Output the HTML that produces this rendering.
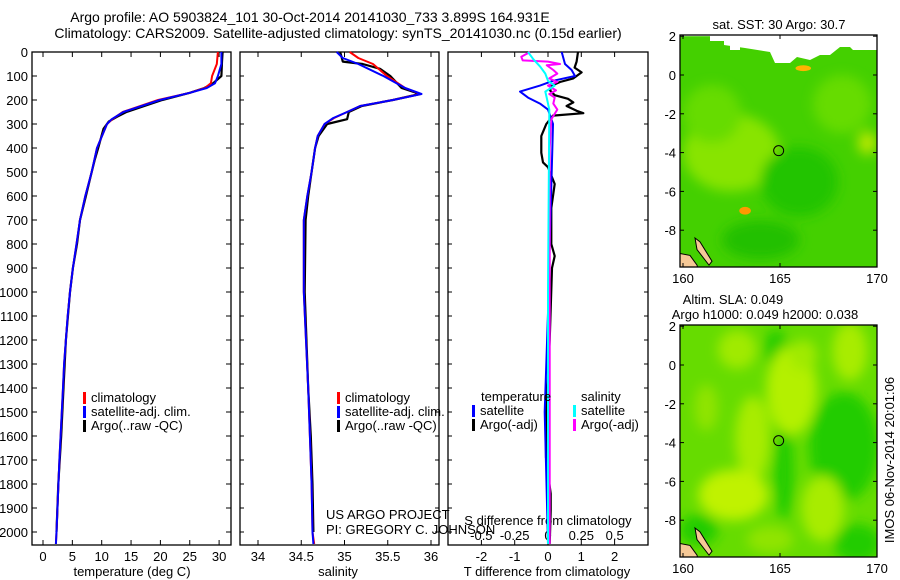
<!DOCTYPE html>
<html><head><meta charset="utf-8"><style>
body{margin:0;background:#fff;}
svg{display:block;font-family:"Liberation Sans",sans-serif;}
</style></head><body>
<svg id="fig" width="900" height="580" viewBox="0 0 900 580">
<defs>
<filter id="blur3" x="-50%" y="-50%" width="200%" height="200%"><feGaussianBlur stdDeviation="6"/></filter>
<clipPath id="clipMap1"><rect x="680" y="35" width="197" height="232"/></clipPath>
<clipPath id="clipMap2"><rect x="680" y="325" width="197" height="232"/></clipPath>
</defs>
<text x="310" y="22" font-size="14" text-anchor="middle">Argo profile: AO 5903824_101 30-Oct-2014 20141030_733 3.899S 164.931E</text>
<text x="338" y="38" font-size="14" text-anchor="middle">Climatology: CARS2009. Satellite-adjusted climatology: synTS_20141030.nc (0.15d earlier)</text>
<g id="g1"></g>
<g id="g2"></g>
<g id="g3"></g>
<g id="m1"></g>
<g id="m2"></g>
<text x="326" y="519" font-size="13">US ARGO PROJECT</text>
<text x="326" y="534" font-size="13">PI: GREGORY C. JOHNSON</text>
<text transform="translate(894,460) rotate(-90)" font-size="13" text-anchor="middle">IMOS 06-Nov-2014 20:01:06</text>
</svg>
<script>
// ---- data ----
const depthT = [0,50,100,130,150,170,200,250,280,300,400,500,600,700,800,900,1000,1100,1200,1300,1400,1500,1700,2000,2050];
const tempSat = [30.4,30.4,29.8,29.3,27.9,25,19.9,13.7,11.7,10.9,9.2,8.3,7.2,6.3,5.7,5.1,4.6,4.2,3.9,3.6,3.4,3.2,2.8,2.3,2.2];
const tempClim = [29.8,29.6,28.8,28.6,27.6,25,19.6,13.6,11.8,10.9,9.2,8.3,7.2,6.3,5.7,5.1,4.6,4.2,3.9,3.6,3.4,3.2,2.8,2.3,2.2];
const depthArgoT = [0,40,100,130,150,170,200,250,270,290,320,400,450,500,600,700,800,900,1000,1200,1400,1600,1800,2000];
const tempArgo = [30.6,30.5,30.4,29,27.5,25,20.3,14.2,12.6,11.2,10.3,9.4,8.8,8.3,7.3,6.3,5.8,5.1,4.6,3.9,3.5,3.1,2.6,2.3];
const depthS = [0,25,50,100,150,175,200,225,250,275,300,350,400,500,600,700,1000,1400,1600,1800,2000,2050];
const salSat = [34.91,34.98,35.16,35.45,35.70,35.89,35.56,35.18,35.03,34.87,34.77,34.69,34.66,34.62,34.57,34.53,34.53,34.58,34.60,34.62,34.63,34.64];
const salClim = [35.06,35.16,35.33,35.49,35.70,35.88,35.56,35.18,35.03,34.88,34.77,34.69,34.66,34.62,34.57,34.53,34.53,34.58,34.60,34.62,34.63,34.65];
const depthArgoS = [0,40,50,70,100,150,175,200,225,250,280,300,350,400,500,600,700,1000,1400,1600,1800,2000];
const salArgo = [34.95,34.98,35.21,35.41,35.53,35.66,35.87,35.56,35.20,35.05,35.03,34.80,34.70,34.66,34.62,34.58,34.55,34.54,34.58,34.61,34.63,34.64];
const depthDT = [0,50,75,100,120,140,165,190,215,240,300,500,800,1000,1500,2050];
const dTSat = [0.41,0.51,0.71,0.81,0.15,-0.24,-0.84,-0.6,-0.24,0,0.15,0.11,0.05,0.02,-0.1,0];
const depthDTA = [0,40,65,85,110,125,140,160,180,195,210,225,245,255,265,300,350,420,460,480,550,650,800,850,900,1200,1530,1690,1840,1910,2050];
const dTArgo = [0.9,0.86,0.8,1.01,0.76,0.36,0.11,0.06,0.2,0.6,0.76,0.56,0.86,1.06,0.15,-0.05,-0.2,-0.2,-0.15,0,0.2,0.1,0.1,0.2,0.12,0.05,-0.06,-0.06,0.08,0.08,0.05];
const depthDS = [0,20,35,40,50,55,75,90,110,125,140,160,175,190,215,240,280,400,2050];
const dSArgo = [-0.135,-0.2,-0.19,0,0.09,-0.01,0.04,0.07,0.01,0.07,0,0.06,0.01,0.05,0.04,0.07,0.025,0.013,0.013];
const depthDSS = [0,30,60,90,120,140,165,190,240,1000,2050];
const dSSat = [-0.15,-0.11,-0.06,-0.02,0,0.05,-0.02,-0.01,0.01,0,0];
const depthTicks = [0,100,200,300,400,500,600,700,800,900,1000,1100,1200,1300,1400,1500,1600,1700,1800,1900,2000];
const tempTicks = [0,5,10,15,20,25,30];
const salTicks = [34,34.5,35,35.5,36];
const salTickLabels = ["34","34.5","35","35.5","36"];
const dTTicks = [-2,-1,0,1,2];
const dSTicks = [-0.5,-0.25,0,0.25,0.5];
const dSTickLabels = ["-0.5","-0.25","0","0.25","0.5"];
const lonTicks = [160,165,170];
const latTicks = [2,0,-2,-4,-6,-8];
const argoLon = [164.931];
const argoLat = [-3.899];
// SLA map blobs: lon, lat, rLon, rLat, colour
const slaBlobLon = [165.6,163.6,162.6,167.2,168.6,162.8,161.2,166.2,164.5];
const slaBlobLat = [-1.3,-3.8,-6.7,-7.4,0.7,0.8,-2.2,0.5,-9];
const slaBlobRlon = [1.3,0.9,1.8,1.1,0.9,1.0,0.6,0.7,1.2];
const slaBlobRlat = [2.3,2.2,1.3,1.7,1.5,1.0,1.2,0.8,0.7];
const slaBlobCol = ["#b4f000","#a8ec00","#c0f200","#a8ec00","#a8ec00","#a0ea00","#90e400","#a0ea00","#90e400"];
const slaDarkLon = [168.3,165.2,169,164.8,160.8];
const slaDarkLat = [-4.2,-5.5,-9.2,0.8,-8.5];
const slaDarkRlon = [1.8,0.5,1.2,0.6,1];
const slaDarkRlat = [2.8,2.5,1,1,0.8];
// SST map patches
const sstPatchLon = [162.5,166,168.2,161.5,164,169.5,163.2,166.2];
const sstPatchLat = [-4,-5.5,-1.5,-2,-8.5,-3.5,-7,0.35];
const sstPatchRlon = [2.5,2,1.5,1.5,2,0.5,0.3,0.4];
const sstPatchRlat = [2,1.8,1.5,1.5,1,0.6,0.2,0.15];
const sstPatchCol = ["#88e400","#22c400","#66dc00","#66dc00","#22c000","#b8e800","#ff9900","#ffb400"];

const NS="http://www.w3.org/2000/svg";
function el(tag, attrs, parent){const e=document.createElementNS(NS,tag);for(const k in attrs)e.setAttribute(k,attrs[k]);parent.appendChild(e);return e;}
const yD = d => 52 + 0.24*d;
const xT = t => 43 + 5.87*t;
const xS = s => 258 + 86.5*(s-34);
const xDT = v => 548 + 33.3*v;
const xDS = v => 548 + 133.3*v;
const lonX = l => 683 + 19.4*(l-160);
const lat1 = l => 75 - 19.4*l;
const lat2 = l => 365 - 19.4*l;
const TOP=52, BOT=545;

function panelFrame(g,x0,x1,name){
  const r=el('rect',{x:x0,y:TOP,width:x1-x0,height:BOT-TOP,fill:'none',stroke:'#000','stroke-width':1.3},g);
  
  
}
function line(g,xs,ys,xf,yf,col,w,name){
  const pts=xs.map((v,i)=>xf(v).toFixed(1)+','+yf(ys[i]).toFixed(1)).join(' ');
  const p=el('polyline',{points:pts,fill:'none',stroke:col,'stroke-width':w,'stroke-linejoin':'round'},g);
  
  
}
function xticks(g,ticks,labels,xf,yLab,name,top){
  ticks.forEach((t,i)=>{
    el('line',{x1:xf(t),x2:xf(t),y1:BOT,y2:BOT-5,stroke:'#000'},g);
    if(top) el('line',{x1:xf(t),x2:xf(t),y1:TOP,y2:TOP+5,stroke:'#000'},g);
    const tx=el('text',{x:xf(t),y:yLab,'font-size':13,'text-anchor':'middle'},g);
    tx.textContent=labels[i];
    
    
  });
}
function legend(g,x,y,items){
  items.forEach((it,i)=>{
    el('rect',{x:x,y:y+i*14-10,width:3,height:12,fill:it[0]},g);
    const t=el('text',{x:x+8,y:y+i*14,'font-size':13},g);
    t.textContent=it[1];
    
    
  });
}
// Panel 1
const g1=document.getElementById('g1');
panelFrame(g1,32,231,'temperature-panel');
depthTicks.forEach(d=>{
  el('line',{x1:32,x2:37,y1:yD(d),y2:yD(d),stroke:'#000'},g1);
  el('line',{x1:231,x2:226,y1:yD(d),y2:yD(d),stroke:'#000'},g1);
  const t=el('text',{x:28,y:yD(d)+5,'font-size':13,'text-anchor':'end'},g1);
  t.textContent=d;
  
  
});
xticks(g1,tempTicks,tempTicks.map(String),xT,561,'temperature',true);
const xl1=el('text',{x:132,y:576,'font-size':13,'text-anchor':'middle'},g1);xl1.textContent='temperature (deg C)';


line(g1,tempArgo,depthArgoT,xT,yD,'#000',2.2,'temperature-argo-line');
line(g1,tempClim,depthT,xT,yD,'#f00',2,'temperature-climatology-line');
line(g1,tempSat,depthT,xT,yD,'#00f',2,'temperature-satellite-line');
legend(g1,83,402,[['#f00','climatology'],['#00f','satellite-adj. clim.'],['#000','Argo(..raw -QC)']]);
// Panel 2
const g2=document.getElementById('g2');
panelFrame(g2,240,439,'salinity-panel');
xticks(g2,salTicks,salTickLabels,xS,561,'salinity',true);
depthTicks.forEach(d=>{el('line',{x1:240,x2:244,y1:yD(d),y2:yD(d),stroke:'#000'},g2);el('line',{x1:439,x2:435,y1:yD(d),y2:yD(d),stroke:'#000'},g2);});
const xl2=el('text',{x:338,y:576,'font-size':13,'text-anchor':'middle'},g2);xl2.textContent='salinity';


line(g2,salArgo,depthArgoS,xS,yD,'#000',2.2,'salinity-argo-line');
line(g2,salClim,depthS,xS,yD,'#f00',2,'salinity-climatology-line');
line(g2,salSat,depthS,xS,yD,'#00f',2,'salinity-satellite-line');
legend(g2,337,402,[['#f00','climatology'],['#00f','satellite-adj. clim.'],['#000','Argo(..raw -QC)']]);
// Panel 3
const g3=document.getElementById('g3');
panelFrame(g3,448,648,'difference-panel');
xticks(g3,dTTicks,dTTicks.map(String),xDT,561,'t-difference',true);
depthTicks.forEach(d=>{el('line',{x1:448,x2:452,y1:yD(d),y2:yD(d),stroke:'#000'},g3);el('line',{x1:648,x2:644,y1:yD(d),y2:yD(d),stroke:'#000'},g3);});
dSTicks.forEach((t,i)=>{
  const tx=el('text',{x:xDS(t),y:540,'font-size':13,'text-anchor':'middle'},g3);
  tx.textContent=dSTickLabels[i];
  
  
});
const st=el('text',{x:548,y:525,'font-size':13,'text-anchor':'middle'},g3);st.textContent='S difference from climatology';


const tt=el('text',{x:547,y:576,'font-size':13,'text-anchor':'middle'},g3);tt.textContent='T difference from climatology';


line(g3,dTArgo,depthDTA,xDT,yD,'#000',2.2,'t-difference-argo-line');
line(g3,dTSat,depthDT,xDT,yD,'#00f',2,'t-difference-satellite-line');
line(g3,dSArgo,depthDS,xDS,yD,'#f0f',2,'s-difference-argo-line');
line(g3,dSSat,depthDSS,xDS,yD,'#0ff',2,'s-difference-satellite-line');
const lt=el('text',{x:481,y:401,'font-size':13},g3);lt.textContent='temperature';


const ls=el('text',{x:581,y:401,'font-size':13},g3);ls.textContent='salinity';


legend(g3,472,415,[['#00f','satellite'],['#000','Argo(-adj)']]);
legend(g3,573,415,[['#0ff','satellite'],['#f0f','Argo(-adj)']]);
// Maps
function mapAxes(g,latf,y0,y1,title1,title2){
  lonTicks.forEach(l=>{
    el('line',{x1:lonX(l),x2:lonX(l),y1:y1,y2:y1-4,stroke:'#000'},g);
    el('line',{x1:lonX(l),x2:lonX(l),y1:y0,y2:y0+4,stroke:'#000'},g);
    const t=el('text',{x:lonX(l),y:y1+16,'font-size':13,'text-anchor':'middle'},g);t.textContent=l;
    
    
  });
  latTicks.forEach(l=>{
    el('line',{x1:680,x2:684,y1:latf(l),y2:latf(l),stroke:'#000'},g);
    el('line',{x1:877,x2:873,y1:latf(l),y2:latf(l),stroke:'#000'},g);
    const t=el('text',{x:676,y:latf(l)+5,'font-size':13,'text-anchor':'end'},g);t.textContent=l;
    
    
  });
  const r=el('rect',{x:680,y:y0,width:197,height:y1-y0,fill:'none',stroke:'#000','stroke-width':1.3},g);
  
  
  title2.forEach((s,i)=>{
    const t=el('text',{x:title1[i],y:y0-(title2.length-i-1)*15-6,'font-size':13,'text-anchor':'middle'},g);t.textContent=s;
    
    
  });
  argoLon.forEach((lo,i)=>{
    const c=el('circle',{cx:lonX(lo),cy:latf(argoLat[i]),r:5,fill:'none',stroke:'#000','stroke-width':1},g);
    
    
  });
}
function land(g,latf){
  el('path',{d:`M680 ${latf(-9.2)} L690 ${latf(-9.3)} L697 ${latf(-9.8)} L698 ${latf(-10)} L680 ${latf(-10)} Z`,fill:'#f5c896',stroke:'#000','stroke-width':1},g);
  el('path',{d:`M695 ${latf(-8.4)} L700 ${latf(-8.6)} L712 ${latf(-9.6)} L709 ${latf(-9.8)} L697 ${latf(-9)} Z`,fill:'#f5c896',stroke:'#000','stroke-width':1},g);
}
const m1=document.getElementById('m1');
const c1=el('g',{'clip-path':'url(#clipMap1)'},m1);
el('rect',{x:680,y:lat1(2),width:197,height:232,fill:'#44d000'},c1);
const fb=el('g',{filter:'url(#blur3)'},c1);
sstPatchLon.forEach((lo,i)=>{
  const e=el('ellipse',{cx:lonX(lo),cy:lat1(sstPatchLat[i]),rx:sstPatchRlon[i]*19.4,ry:sstPatchRlat[i]*19.4,fill:sstPatchCol[i]},i>=6?c1:fb);
  
  
});
el('path',{d:`M710 35 L710 41 L724 41 L724 45 L745 48 L770 52 L775 63 L790 63 L797 57 L810 60 L820 55 L830 55 L840 47 L850 47 L853 50 L877 50 L877 35 Z`,fill:'#fff'},c1);
el('rect',{x:730,y:40,width:10,height:10,fill:'#fff'},c1);
land(c1,lat1);
mapAxes(m1,lat1,35,267,[779],['sat. SST: 30 Argo: 30.7']);
const m2=document.getElementById('m2');
const c2=el('g',{'clip-path':'url(#clipMap2)'},m2);
el('rect',{x:680,y:325,width:197,height:232,fill:'#66dc00'},c2);
const fb2=el('g',{filter:'url(#blur3)'},c2);
slaDarkLon.forEach((lo,i)=>{
  const e=el('ellipse',{cx:lonX(lo),cy:lat2(slaDarkLat[i]),rx:slaDarkRlon[i]*19.4,ry:slaDarkRlat[i]*19.4,fill:'#22cc00'},fb2);
  
  
});
slaBlobLon.forEach((lo,i)=>{
  const e=el('ellipse',{cx:lonX(lo),cy:lat2(slaBlobLat[i]),rx:slaBlobRlon[i]*19.4,ry:slaBlobRlat[i]*19.4,fill:slaBlobCol[i]},fb2);
  
  
});
land(c2,lat2);
mapAxes(m2,lat2,325,557,[733,765],['Altim. SLA: 0.049','Argo h1000: 0.049 h2000: 0.038']);
</script>
</body></html>
